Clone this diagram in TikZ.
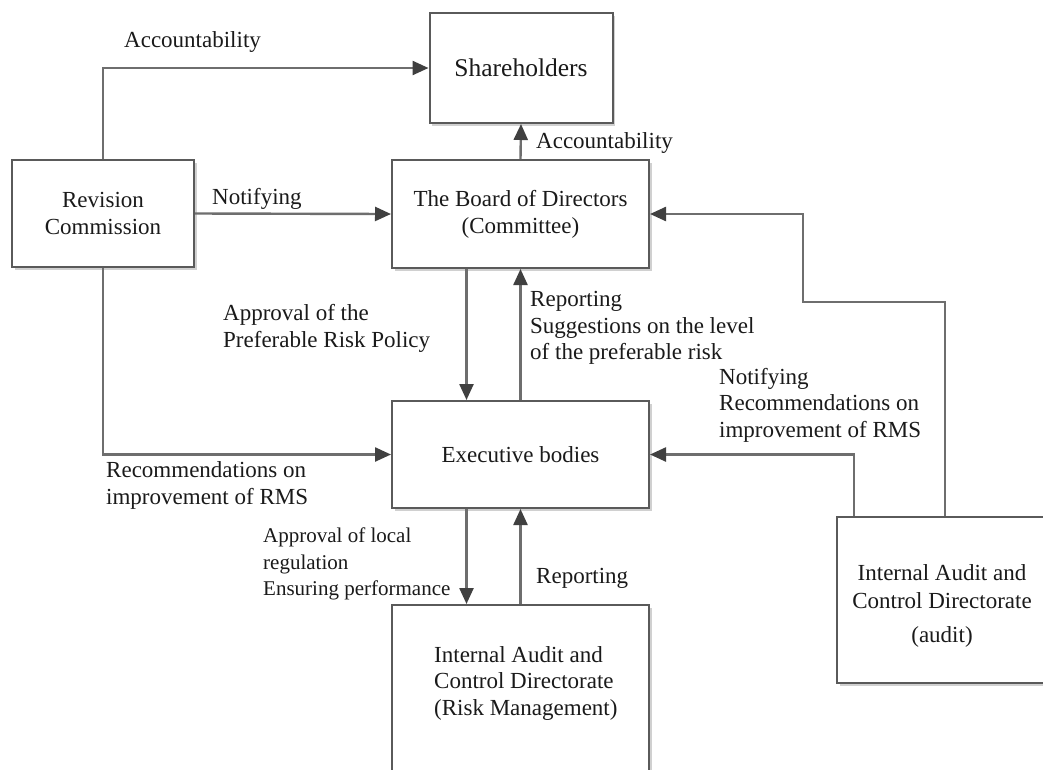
\documentclass[tikz,border=0pt]{standalone}
\usepackage{fontspec}
\setmainfont{Liberation Serif}
\usetikzlibrary{arrows.meta,shadows}
\definecolor{boxline}{HTML}{5A5A5A}
\definecolor{connline}{HTML}{6E6E6E}
\definecolor{tipcol}{HTML}{404040}
\definecolor{txtcol}{HTML}{1A1A1A}
\tikzset{
  box/.style={draw=boxline, line width=2pt, fill=white, inner sep=0pt,
    drop shadow={shadow xshift=2.5pt, shadow yshift=-2.5pt, fill=black!30, opacity=0.6},
    font=\fontsize{23}{27}\selectfont, text=txtcol, align=center},
  conn/.style={draw=connline, line width=2.4pt,
    -{Triangle[length=16pt,width=14pt,fill=tipcol,color=tipcol]}},
  lbl/.style={font=\fontsize{23}{26.5}\selectfont, text=txtcol, align=left, anchor=west, inner sep=0pt}
}
\begin{document}
\begin{tikzpicture}[x=1pt,y=-1pt]
\useasboundingbox (0,0) rectangle (1043,769);
\fill[white] (0,0) rectangle (1043,769);
% boxes
\node[box, minimum width=183pt, minimum height=110pt, font=\fontsize{25.5}{30}\selectfont] (sh) at (521,68) {Shareholders};
\node[box, minimum width=182pt, minimum height=107pt] (rev) at (103,213.5) {Revision\\Commission};
\node[box, minimum width=257pt, minimum height=108pt] (board) at (520.5,214) {The Board of Directors\\(Committee)};
\node[box, minimum width=257pt, minimum height=107pt] (exec) at (520.5,454.5) {Executive bodies};
\node[box, minimum width=257pt, minimum height=195pt] (rm) at (520.5,702.5) {};
\node[lbl] (rmtext) at (434,683) {Internal Audit and\\Control Directorate\\(Risk Management)};
\node[box, minimum width=210pt, minimum height=166pt] (audit) at (942,600) {};
\node[font=\fontsize{23}{28}\selectfont, text=txtcol, align=center, inner sep=0pt] (audittext) at (942,606) {Internal Audit and\\Control Directorate\\[6pt](audit)};
% connectors
\draw[conn] (rev.north) |- (sh.west);
\draw[conn] (board.north) -- (sh.south);
\draw[conn] (rev.east) -- (board.west);
\draw[conn] ([xshift=-54pt]board.south) -- ([xshift=-54pt]exec.north);
\draw[conn] (exec.north) -- (board.south);
\draw[conn] (rev.south) |- (exec.west);
\draw[conn] ([xshift=-88pt]audit.north) |- (exec.east);
\coordinate (bend) at (803,302);
\draw[conn] ([xshift=3pt]audit.north) |- (bend) |- (board.east);
\draw[conn] ([xshift=-54pt]exec.south) -- ([xshift=-54pt]rm.north);
\draw[conn] (rm.north) -- (exec.south);
% labels
\node[lbl] (l1) at (124,42) {Accountability};
\node[lbl] (l2) at (536,143) {Accountability};
\node[lbl] (l3) at (212,199) {Notifying};
\node[lbl] (l4) at (223,328.5) {Approval of the\\Preferable Risk Policy};
\node[lbl] (l5) at (530,328) {Reporting\\Suggestions on the level\\of the preferable risk};
\node[lbl] (l6) at (719,405) {Notifying\\Recommendations on\\improvement of RMS};
\node[lbl] (l7) at (106,485.5) {Recommendations on\\improvement of RMS};
\node[lbl, font=\fontsize{21}{26.5}\selectfont] (l8) at (263,564) {Approval of local\\regulation\\Ensuring performance};
\node[lbl] (l9) at (536,578) {Reporting};
\end{tikzpicture}
\end{document}
